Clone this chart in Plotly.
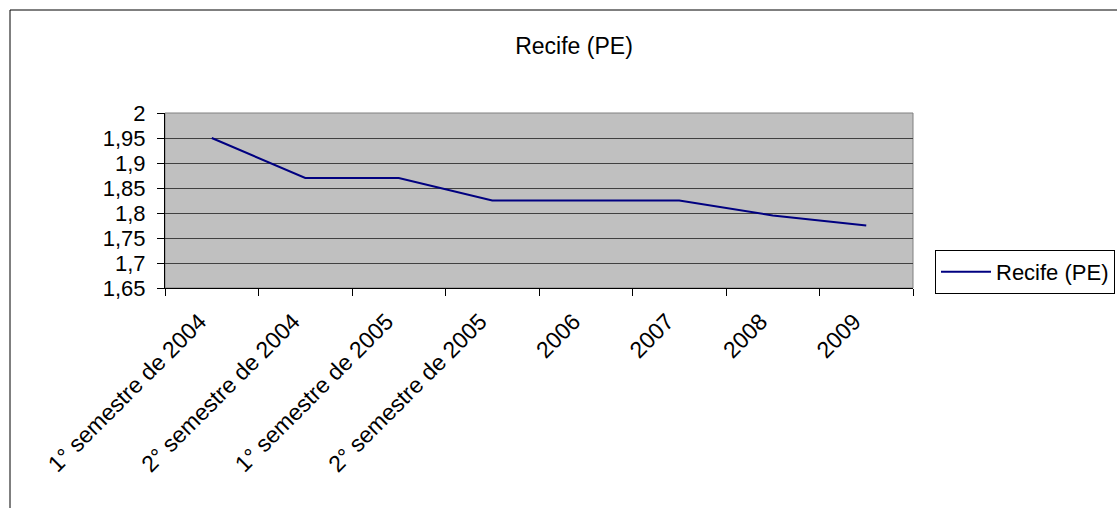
import plotly.graph_objects as go

categories = ["1° semestre de 2004", "2° semestre de 2004", "1° semestre de 2005",
              "2° semestre de 2005", "2006", "2007", "2008", "2009"]
values = [1.95, 1.87, 1.87, 1.825, 1.825, 1.825, 1.795, 1.775]
y_tickvals = [1.65, 1.7, 1.75, 1.8, 1.85, 1.9, 1.95, 2.0]
y_ticktext = ["1,65", "1,7", "1,75", "1,8", "1,85", "1,9", "1,95", "2"]
series_name = "Recife (PE)"
title_text = "Recife (PE)"

W, H = 1117, 508
L, R, T, B = 165, 913, 113, 288

fig = go.Figure()
fig.add_trace(go.Scatter(x=categories, y=values, mode="lines", name=series_name,
                         line=dict(color="#000080", width=2)))

def px_to_paper_x(px):
    return (px - L) / (R - L)

def px_to_paper_y(py):
    return (B - py) / (B - T)

FONT = "Liberation Sans, Arial, sans-serif"

fig.update_layout(
    width=W, height=H,
    margin=dict(l=L, r=W - R, t=T, b=H - B, pad=0, autoexpand=False),
    paper_bgcolor="white",
    plot_bgcolor="#C0C0C0",
    font=dict(family=FONT, size=22, color="black"),
    title=dict(text=title_text, x=574 / W, xanchor="center", xref="container",
               y=1 - 46 / H, yanchor="middle", yref="container",
               font=dict(size=23)),
    showlegend=True,
    legend=dict(x=px_to_paper_x(935), y=px_to_paper_y(250), xanchor="left", yanchor="top",
                bordercolor="black", borderwidth=1, bgcolor="white",
                font=dict(size=22), tracegroupgap=0, itemwidth=50),
    xaxis=dict(type="category", tickson="boundaries", ticks="outside", ticklen=7,
               tickcolor="black", tickangle=-45, showgrid=False,
               showline=True, linecolor="black", linewidth=1,
               ticklabelstandoff=10, ticklabelshift=-12,
               tickfont=dict(size=23),
               range=[-0.5, len(categories) - 0.5]),
    yaxis=dict(range=[1.65, 2.0], tickvals=y_tickvals, ticktext=y_ticktext,
               ticks="outside", ticklen=7, tickcolor="black",
               ticklabelstandoff=7,
               showgrid=True, gridcolor="#404040", gridwidth=1,
               showline=True, linecolor="black", linewidth=1, zeroline=False),
)

# plot area border (gray)
fig.add_shape(type="rect", xref="paper", yref="paper", x0=0, y0=0, x1=1, y1=1,
              line=dict(color="#808080", width=1), layer="below")
# outer chart frame
fig.add_shape(type="rect", xref="paper", yref="paper",
              x0=px_to_paper_x(10), y0=px_to_paper_y(515),
              x1=px_to_paper_x(1125), y1=px_to_paper_y(10),
              line=dict(color="black", width=1))

fig.write_html("out.html")
